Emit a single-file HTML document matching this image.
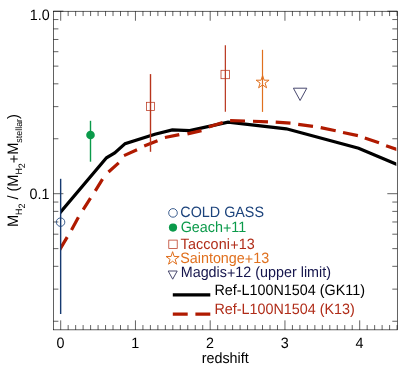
<!DOCTYPE html>
<html><head><meta charset="utf-8"><style>
html,body{margin:0;padding:0;background:#fff;}
svg{display:block;will-change:transform}
.tk text{font-size:14.35px}
text{font-family:"Liberation Sans",sans-serif;font-size:14.35px;fill:#000;text-rendering:geometricPrecision}
</style></head><body>
<svg width="415" height="378" viewBox="0 0 415 378">
<rect width="415" height="378" fill="#fff"/>
<rect x="53.4" y="11.25" width="343.90000000000003" height="318.6" fill="none" stroke="#000" stroke-width="0.62"/>
<path d="M60.70 329.85v-9.5M60.70 11.25v9.5 M68.17 329.85v-4.8M68.17 11.25v4.8 M75.65 329.85v-4.8M75.65 11.25v4.8 M83.12 329.85v-4.8M83.12 11.25v4.8 M90.60 329.85v-4.8M90.60 11.25v4.8 M98.08 329.85v-4.8M98.08 11.25v4.8 M105.55 329.85v-4.8M105.55 11.25v4.8 M113.03 329.85v-4.8M113.03 11.25v4.8 M120.50 329.85v-4.8M120.50 11.25v4.8 M127.98 329.85v-4.8M127.98 11.25v4.8 M135.45 329.85v-9.5M135.45 11.25v9.5 M142.93 329.85v-4.8M142.93 11.25v4.8 M150.40 329.85v-4.8M150.40 11.25v4.8 M157.88 329.85v-4.8M157.88 11.25v4.8 M165.35 329.85v-4.8M165.35 11.25v4.8 M172.82 329.85v-4.8M172.82 11.25v4.8 M180.30 329.85v-4.8M180.30 11.25v4.8 M187.78 329.85v-4.8M187.78 11.25v4.8 M195.25 329.85v-4.8M195.25 11.25v4.8 M202.73 329.85v-4.8M202.73 11.25v4.8 M210.20 329.85v-9.5M210.20 11.25v9.5 M217.68 329.85v-4.8M217.68 11.25v4.8 M225.15 329.85v-4.8M225.15 11.25v4.8 M232.62 329.85v-4.8M232.62 11.25v4.8 M240.10 329.85v-4.8M240.10 11.25v4.8 M247.57 329.85v-4.8M247.57 11.25v4.8 M255.05 329.85v-4.8M255.05 11.25v4.8 M262.53 329.85v-4.8M262.53 11.25v4.8 M270.00 329.85v-4.8M270.00 11.25v4.8 M277.48 329.85v-4.8M277.48 11.25v4.8 M284.95 329.85v-9.5M284.95 11.25v9.5 M292.43 329.85v-4.8M292.43 11.25v4.8 M299.90 329.85v-4.8M299.90 11.25v4.8 M307.38 329.85v-4.8M307.38 11.25v4.8 M314.85 329.85v-4.8M314.85 11.25v4.8 M322.32 329.85v-4.8M322.32 11.25v4.8 M329.80 329.85v-4.8M329.80 11.25v4.8 M337.27 329.85v-4.8M337.27 11.25v4.8 M344.75 329.85v-4.8M344.75 11.25v4.8 M352.22 329.85v-4.8M352.22 11.25v4.8 M359.70 329.85v-9.5M359.70 11.25v9.5 M367.17 329.85v-4.8M367.17 11.25v4.8 M374.65 329.85v-4.8M374.65 11.25v4.8 M382.12 329.85v-4.8M382.12 11.25v4.8 M389.60 329.85v-4.8M389.60 11.25v4.8 M397.07 329.85v-4.8M397.07 11.25v4.8 M53.4 321.26h5M397.3 321.26h-5 M53.4 289.13h5M397.3 289.13h-5 M53.4 266.32h5M397.3 266.32h-5 M53.4 248.64h5M397.3 248.64h-5 M53.4 234.19h5M397.3 234.19h-5 M53.4 221.97h5M397.3 221.97h-5 M53.4 211.39h5M397.3 211.39h-5 M53.4 202.05h5M397.3 202.05h-5 M53.4 193.70h10M397.3 193.70h-10 M53.4 138.76h5M397.3 138.76h-5 M53.4 106.63h5M397.3 106.63h-5 M53.4 83.82h5M397.3 83.82h-5 M53.4 66.14h5M397.3 66.14h-5 M53.4 51.69h5M397.3 51.69h-5 M53.4 39.47h5M397.3 39.47h-5 M53.4 28.89h5M397.3 28.89h-5 M53.4 19.55h5M397.3 19.55h-5 M53.4 11.20h10M397.3 11.20h-10" stroke="#000" stroke-width="0.62" fill="none"/>
<!-- data -->
<clipPath id="cp"><rect x="60.1" y="0" width="336.2" height="378"/></clipPath>
<g clip-path="url(#cp)">
<polyline points="59.0,214.0 60.7,212 106.5,157.8 114.7,153.0 125.1,143.6 154.9,134.3 172.3,129.9 189.7,130.6 228.1,122.1 286.3,128.8 358.6,148.3 395.9,164 398,164.9" fill="none" stroke="#000" stroke-width="3.2" stroke-linejoin="miter"/>
<path d="M59.6 249.9L67.2 237.1 M71.5 229.9L78.4 217.3 M83.2 209.7L90.5 198.1 M95.3 190.9L102.5 179.2 M108.5 172L118.7 162.9 M124 155.6L137 149.8 M144.2 146L157.5 140.7 M164.9 137.5L179.3 134.6 M187.4 133.9L201.5 130.6 M208.7 127L222.7 122.4 M230.1 120.7L245 121 M253 121.25L268 121.85 M275.7 122.1L290.5 123.1 M298.2 124.3L313 126.3 M320.7 127.6L335.7 130.7 M343 132.5L357.9 135.6 M364.8 138.1L379 142.8 M386.1 145.7L398 149.85" fill="none" stroke="#b01a00" stroke-width="3.2"/>
</g>

<g fill="none" stroke-width="1.2">
<path d="M60.65 178.8V314" stroke="#163a70" stroke-width="1.4"/>
<circle cx="60.55" cy="222.15" r="4.25" stroke="#1c437c" stroke-width="0.85"/>
<path d="M90.5 120.8V161.7" stroke="#0a9a4a" stroke-width="1.4"/>
<path d="M150.5 74.1V151.8" stroke="#b8341c" stroke-width="1.4"/>
<rect x="146.4" y="102.3" width="8.2" height="8.3" stroke="#b8341c" stroke-width="0.75"/>
<path d="M225.35 45.3V111.7" stroke="#b8341c"/>
<rect x="221.0" y="70.3" width="8.4" height="8.4" stroke="#b8341c" stroke-width="0.75"/>
<path d="M262.5 49.8V111.9" stroke="#e0701e"/>
<polygon points="262.6,75.5 264.13,80.2 269.07,80.2 265.07,83.1 266.6,87.8 262.6,84.9 258.6,87.8 260.13,83.1 256.13,80.2 261.07,80.2" stroke="#e0701e" stroke-width="1"/>
<polygon points="293.4,88.2 306.8,88.2 300.1,100.5" stroke="#48486e" stroke-width="1"/>
</g>
<circle cx="90.5" cy="135" r="4.3" fill="#0a9a4a"/>
<!-- legend -->
<g fill="none" stroke-width="1">
<circle cx="173" cy="212.9" r="4.3" stroke="#1c437c" stroke-width="0.85"/>
<rect x="168.8" y="240.1" width="8.4" height="8.4" stroke="#b8341c" stroke-width="0.75"/>
<polygon points="172.6,251.7 174.15,256.47 179.16,256.47 175.11,259.41 176.66,264.18 172.6,261.24 168.54,264.18 170.09,259.41 166.04,256.47 171.05,256.47" stroke="#e0701e"/>
<polygon points="168.2,271 177.2,271 172.7,279.2" stroke="#48486e"/>
</g>
<circle cx="173" cy="227.6" r="4.1" fill="#0a9a4a"/>
<path d="M172.8 294.9H210.3" stroke="#000" stroke-width="3.3"/>
<path d="M172.8 314.1H210.3" stroke="#b01a00" stroke-width="3.3" stroke-dasharray="14.9 7.7"/>
<text transform="translate(180.3 216.8) scale(1 1.045)" style="fill:#1c437c">COLD GASS</text>
<text transform="translate(180.7 232) scale(1 1.045)" style="fill:#0a9a4a">Geach<tspan dy="1.1">+</tspan><tspan dy="-1.1">11</tspan></text>
<text transform="translate(180.6 248.8) scale(1 1.045)" style="fill:#b02c18;letter-spacing:0.13px">Tacconi<tspan dy="1.1">+</tspan><tspan dy="-1.1">13</tspan></text>
<text transform="translate(180.2 263) scale(1 1.045)" style="fill:#e0701e">Saintonge<tspan dy="1.1">+</tspan><tspan dy="-1.1">13</tspan></text>
<text transform="translate(180.7 277.1) scale(1 1.045)" style="fill:#15154c">Magdis<tspan dy="1.1">+</tspan><tspan dy="-1.1">12 (upper limit)</tspan></text>
<text transform="translate(214.5 294.5) scale(1 1.045)">Ref-L100N1504 (GK11)</text>
<text transform="translate(214.5 313.6) scale(1 1.045)" style="fill:#b02c18">Ref-L100N1504 (K13)</text>
<!-- axis labels -->
<g text-anchor="middle" class="tk">
<text transform="translate(60.5 347.6) scale(1 1.045)">0</text>
<text transform="translate(135.3 347.6) scale(1 1.045)">1</text>
<text transform="translate(210 347.6) scale(1 1.045)">2</text>
<text transform="translate(284.8 347.6) scale(1 1.045)">3</text>
<text transform="translate(359.5 347.6) scale(1 1.045)">4</text>
<text transform="translate(225.2 363.2) scale(1 1.045)" style="font-size:14.35px">redshift</text>
</g>
<text transform="translate(29.7 19.75) scale(1 1.045)">1.0</text>
<text transform="translate(29.6 198.5) scale(1 1.045)">0.1</text>
<g transform="translate(17.8,227.0) rotate(-90)">
<text transform="scale(1 1.045)" style="font-size:14.5px">M<tspan dy="4" style="font-size:8.9px">H</tspan><tspan dy="3.3" style="font-size:8.9px">2</tspan><tspan dy="-7.3"> / (M</tspan><tspan dy="4" style="font-size:8.9px">H</tspan><tspan dy="3.3" style="font-size:8.9px">2</tspan><tspan dy="-5.7">+</tspan><tspan dy="-1.6">M</tspan><tspan dy="4" style="font-size:8.9px">stellar</tspan><tspan dy="-4">)</tspan></text>
</g>
</svg>
</body></html>
